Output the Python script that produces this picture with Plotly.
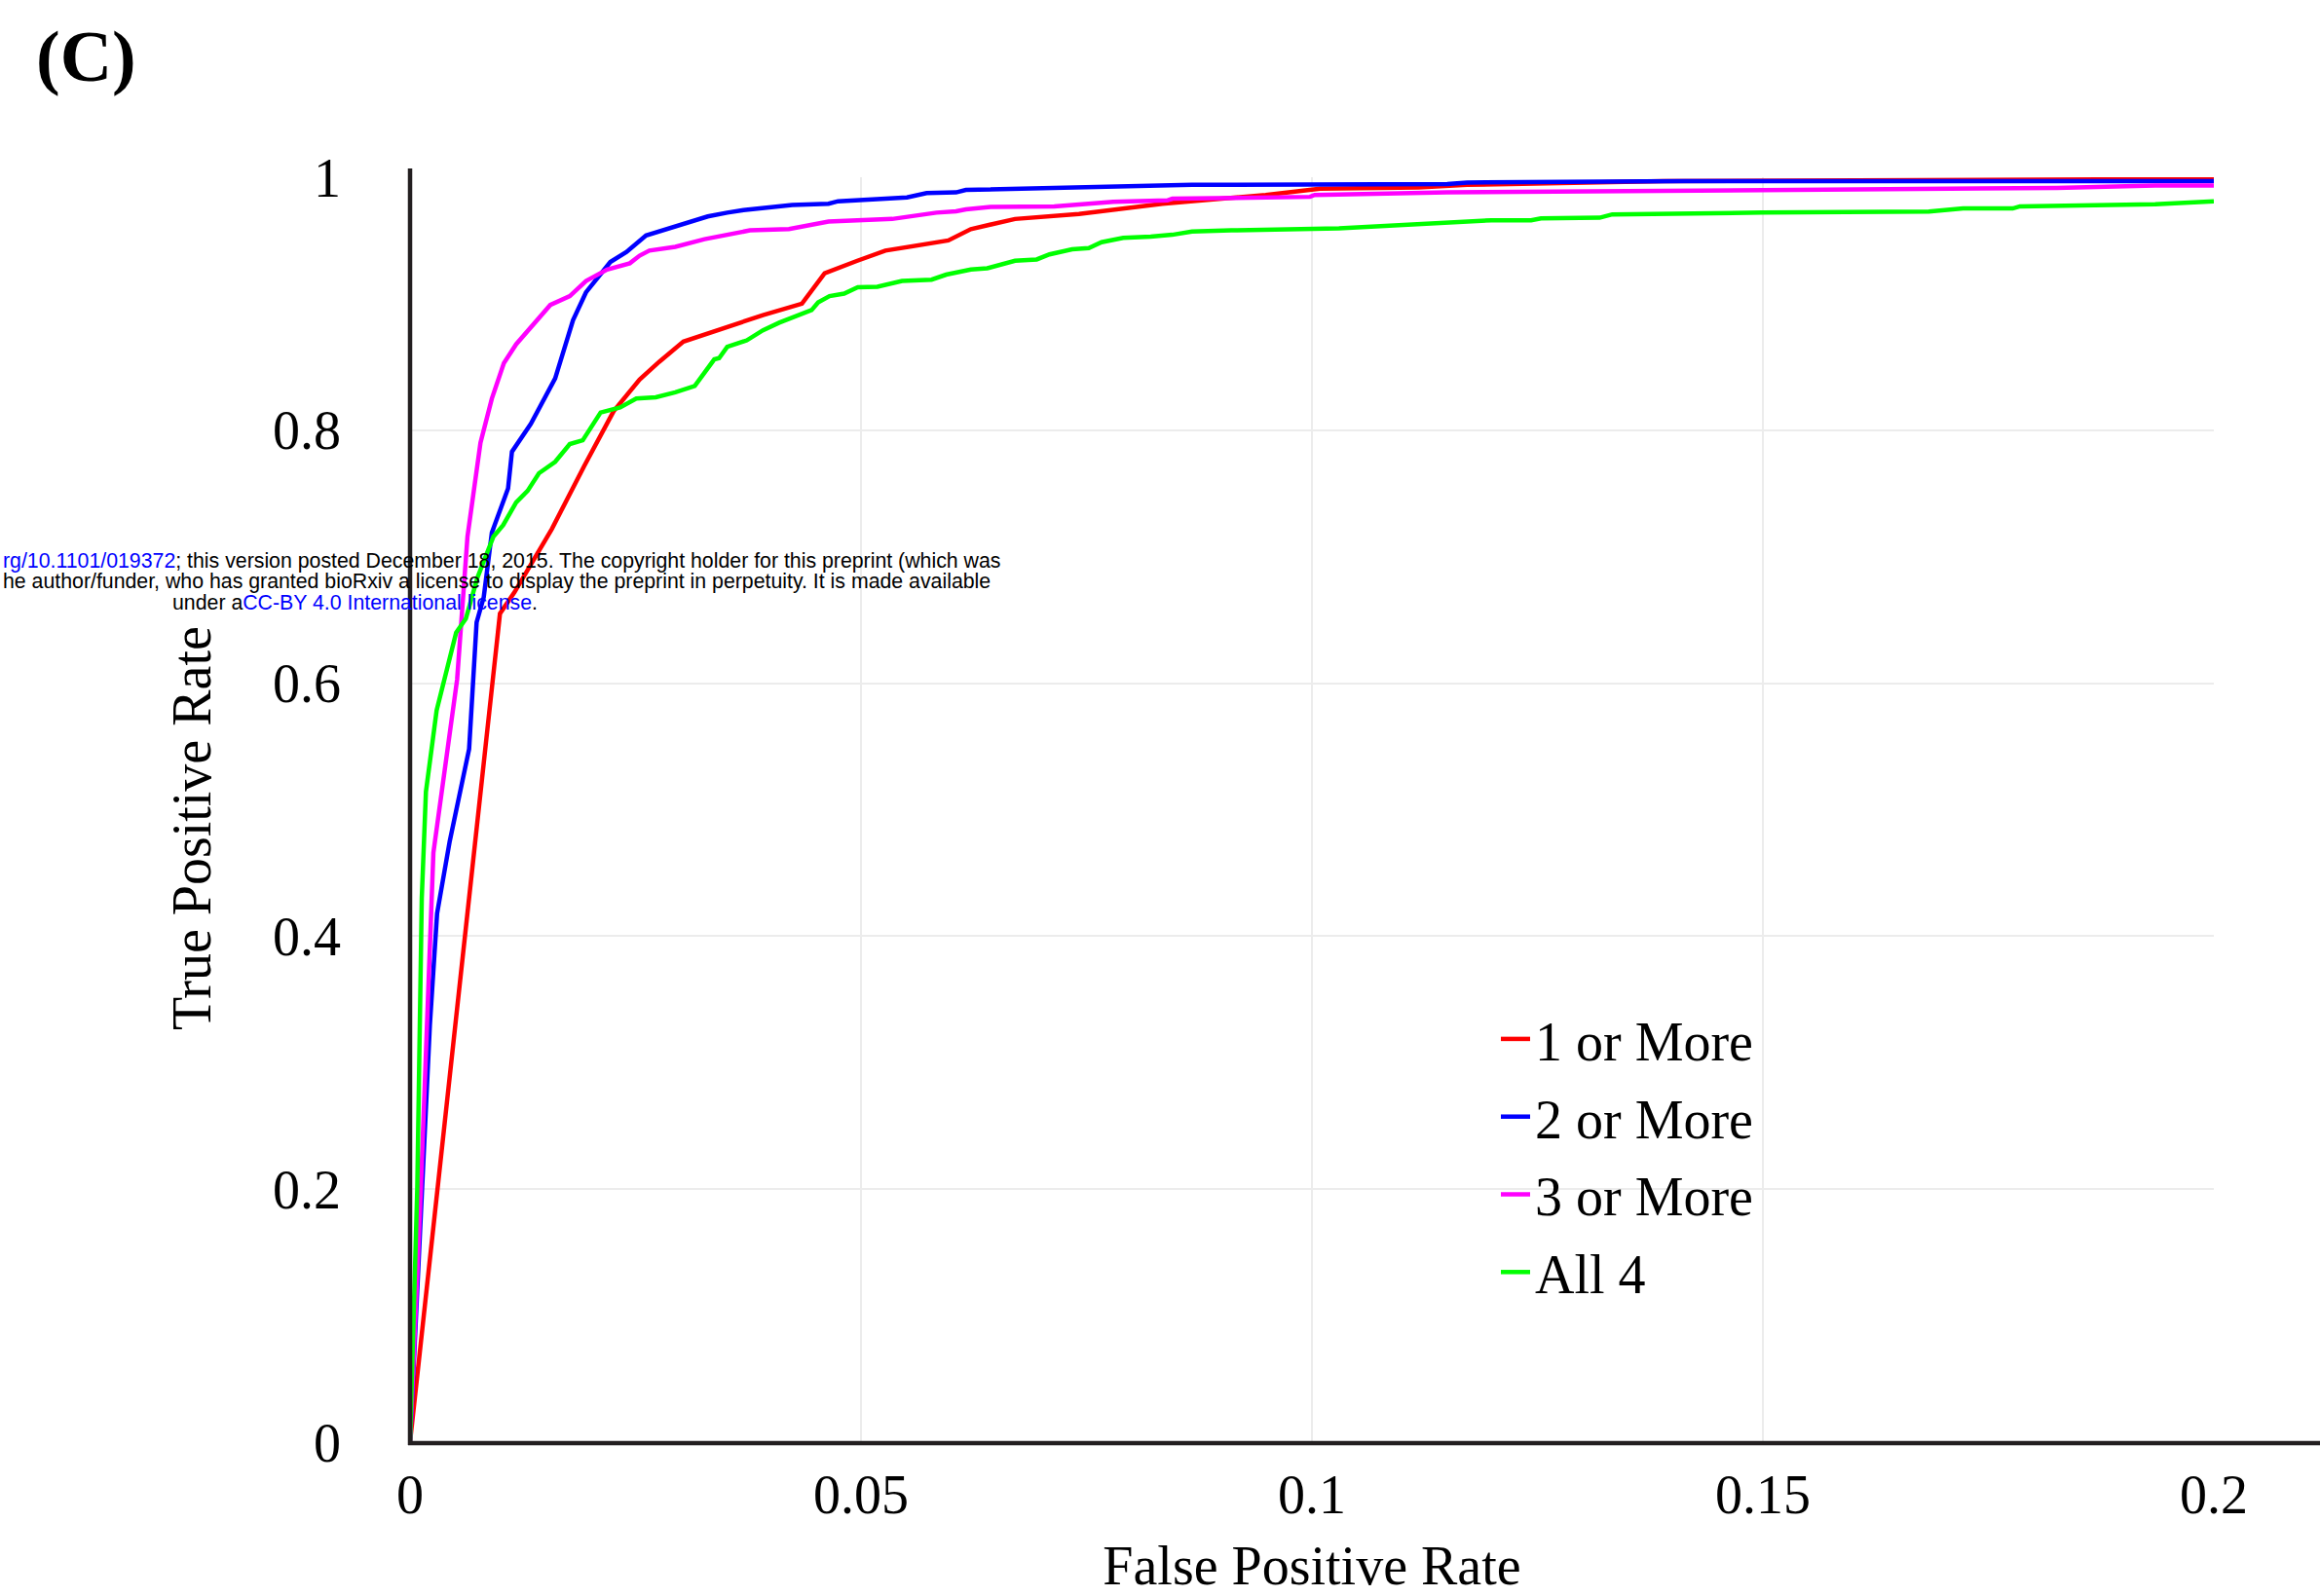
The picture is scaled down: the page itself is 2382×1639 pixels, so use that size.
import plotly.graph_objects as go

# ---------------- data ----------------
series_names = ["1 or More", "2 or More", "3 or More", "All 4"]
series_colors = ["#ff0000", "#0000ff", "#ff00ff", "#00ff00"]

fpr_1 = [0, 0.00997, 0.01159, 0.01573, 0.01933, 0.02257, 0.02545, 0.02761, 0.03031, 0.03517,
         0.03913, 0.04345, 0.04597, 0.0496, 0.0527, 0.05968, 0.06218, 0.06708, 0.07417, 0.08342,
         0.09487, 0.1009, 0.1118, 0.1172, 0.139, 0.2]
tpr_1 = [0, 0.655, 0.672, 0.722, 0.772, 0.815, 0.840, 0.854, 0.870, 0.882,
         0.891, 0.900, 0.924, 0.934, 0.942, 0.950, 0.959, 0.967, 0.971, 0.979,
         0.986, 0.991, 0.992, 0.994, 0.997, 0.9986]

fpr_2 = [0, 0.0013, 0.0022, 0.0030, 0.0044, 0.00655, 0.00738, 0.00817, 0.00907, 0.01087,
         0.0113, 0.01339, 0.01609, 0.01807, 0.01951, 0.02221, 0.02401, 0.02617, 0.02797, 0.03157,
         0.03301, 0.03517, 0.03697, 0.04237, 0.0464, 0.04746, 0.0551, 0.05728, 0.06054, 0.06163,
         0.07362, 0.0867, 0.115, 0.1172, 0.1412, 0.2]
tpr_2 = [0, 0.2, 0.33, 0.418, 0.475, 0.548, 0.648, 0.668, 0.719, 0.754,
         0.783, 0.805, 0.841, 0.887, 0.909, 0.933, 0.941, 0.954, 0.958, 0.966,
         0.969, 0.972, 0.974, 0.978, 0.979, 0.981, 0.984, 0.9875, 0.988, 0.990,
         0.992, 0.994, 0.9946, 0.9958, 0.997, 0.997]

fpr_3 = [0, 0.0012, 0.00259, 0.00522, 0.00637, 0.00781, 0.00907, 0.0104, 0.01177, 0.01555,
         0.01771, 0.01951, 0.02185, 0.02437, 0.02545, 0.02653, 0.02941, 0.03265, 0.03769, 0.04201,
         0.0464, 0.05346, 0.05837, 0.06054, 0.06163, 0.06436, 0.07143, 0.07797, 0.08397, 0.08451,
         0.09978, 0.1003, 0.115, 0.1499, 0.1826, 0.1935, 0.2]
tpr_3 = [0, 0.2, 0.466, 0.603, 0.716, 0.790, 0.825, 0.853, 0.868, 0.899,
         0.906, 0.918, 0.927, 0.932, 0.938, 0.942, 0.945, 0.951, 0.958, 0.959,
         0.965, 0.967, 0.972, 0.973, 0.9746, 0.9765, 0.977, 0.9806, 0.9817, 0.983,
         0.9845, 0.986, 0.988, 0.990, 0.9915, 0.9935, 0.9935]

fpr_4 = [0, 0.0004, 0.0008, 0.0013, 0.00176, 0.00295, 0.00511, 0.00619, 0.00745, 0.00925,
         0.01033, 0.01177, 0.01303, 0.01429, 0.01609, 0.01771, 0.01915, 0.02113, 0.02329, 0.02509,
         0.02725, 0.02941, 0.03157, 0.03373, 0.03427, 0.03517, 0.03733, 0.03913, 0.04093, 0.04453,
         0.04525, 0.04651, 0.04813, 0.04964, 0.05182, 0.05455, 0.05782, 0.05945, 0.06218, 0.064,
         0.06708, 0.06948, 0.0709, 0.0734, 0.07526, 0.07667, 0.07907, 0.08212, 0.08451, 0.0867,
         0.09106, 0.103, 0.1096, 0.1161, 0.1199, 0.1243, 0.1254, 0.1319, 0.1333, 0.1499,
         0.1684, 0.1722, 0.1777, 0.1785, 0.1935, 0.2]
tpr_4 = [0, 0.1, 0.2, 0.43, 0.514, 0.5785, 0.640, 0.651, 0.683, 0.716,
         0.725, 0.743, 0.752, 0.766, 0.775, 0.789, 0.792, 0.814, 0.818, 0.825,
         0.826, 0.830, 0.835, 0.856, 0.857, 0.866, 0.871, 0.879, 0.885, 0.895,
         0.901, 0.906, 0.908, 0.913, 0.9134, 0.918, 0.919, 0.923, 0.927, 0.928,
         0.934, 0.935, 0.939, 0.943, 0.944, 0.9486, 0.952, 0.953, 0.9545, 0.957,
         0.958, 0.9596, 0.962, 0.964, 0.966, 0.966, 0.9675, 0.968, 0.9706, 0.972,
         0.9728, 0.9753, 0.9753, 0.977, 0.9786, 0.981]

x_tickvals = [0, 0.05, 0.1, 0.15, 0.2]
x_ticktext = ["0", "0.05", "0.1", "0.15", "0.2"]
y_tickvals = [0, 0.2, 0.4, 0.6, 0.8, 1.0]
y_ticktext = ["0", "0.2", "0.4", "0.6", "0.8", "1"]

# ---------------- layout geometry ----------------
W, H = 2382, 1639
L, R, T, B = 421, 2273, 182, 1481
PW, PH = R - L, B - T


def px(xp):
    return (xp - L) / PW


def py(yp):
    return (B - yp) / PH


SERIF = "Liberation Serif"
SANS = "Liberation Sans"
AXIS_COLOR = "#231f20"

fig = go.Figure()
xs = [fpr_1, fpr_2, fpr_3, fpr_4]
ys = [tpr_1, tpr_2, tpr_3, tpr_4]
for i, name in enumerate(series_names):
    fig.add_trace(go.Scatter(
        x=xs[i], y=ys[i], mode="lines", name=name,
        legendgroup=name,
        line=dict(color=series_colors[i], width=4.5),
    ))

fig.update_layout(
    width=W, height=H,
    margin=dict(l=L, r=W - R, t=T, b=H - B, pad=0, autoexpand=False),
    paper_bgcolor="white", plot_bgcolor="white",
    font=dict(family=SERIF, size=56, color="black"),
    showlegend=True,
    legend=dict(
        x=px(1536), y=py(1024), xanchor="left", yanchor="top",
        bgcolor="rgba(0,0,0,0)", borderwidth=0,
        font=dict(family=SERIF, size=56, color="black"),
        traceorder="grouped", tracegroupgap=4,
    ),
    xaxis=dict(
        range=[0, 0.2], tickvals=x_tickvals, ticktext=x_ticktext,
        showgrid=True, gridcolor="#ececec", gridwidth=2,
        zeroline=False, showline=False, automargin=False,
        ticks="", ticklabelstandoff=16,
        tickfont=dict(family=SERIF, size=56, color="black"),
        title=dict(text="False Positive Rate", standoff=25,
                   font=dict(family=SERIF, size=56, color="black")),
    ),
    yaxis=dict(
        range=[0, 1.0], tickvals=y_tickvals, ticktext=y_ticktext,
        showgrid=True, gridcolor="#ececec", gridwidth=2,
        zeroline=False, showline=False, automargin=False,
        ticks="", ticklabelstandoff=70,
        tickfont=dict(family=SERIF, size=56, color="black"),
    ),
)

# axis lines (y-axis reaches slightly above 1, x-axis runs to the right edge)
fig.add_shape(type="line", xref="paper", yref="paper",
              x0=px(419), x1=px(W + 5), y0=py(1482), y1=py(1482),
              line=dict(color=AXIS_COLOR, width=4.5))
fig.add_shape(type="line", xref="paper", yref="paper",
              x0=px(421), x1=px(421), y0=py(1484), y1=py(173),
              line=dict(color=AXIS_COLOR, width=4.5))

# y-axis title
fig.add_annotation(text="True Positive Rate", xref="paper", yref="paper",
                   x=px(197), y=py(851), textangle=-90, showarrow=False,
                   xanchor="center", yanchor="middle",
                   font=dict(family=SERIF, size=56, color="black"))

# panel label
fig.add_annotation(text="<b>(C)</b>", xref="paper", yref="paper",
                   x=px(88), y=py(58), showarrow=False,
                   xanchor="center", yanchor="middle",
                   font=dict(family=SERIF, size=74, color="black"))

# bioRxiv watermark (the part visible on the page)
wm_font = dict(family=SANS, size=21.3, color="black")
fig.add_annotation(
    text='<span style="color:#0000ff">rg/10.1101/019372</span>; '
         'this version posted December 18, 2015. The copyright holder for this preprint (which was',
    xref="paper", yref="paper", x=px(1029), y=py(576), showarrow=False,
    xanchor="right", yanchor="middle", font=wm_font)
fig.add_annotation(
    text='he author/funder, who has granted bioRxiv a license to '
         'display the preprint in perpetuity. It is made available',
    xref="paper", yref="paper", x=px(1019), y=py(597), showarrow=False,
    xanchor="right", yanchor="middle", font=wm_font)
fig.add_annotation(
    text='under a<span style="color:#0000ff">CC-BY 4.0 International license</span>.',
    xref="paper", yref="paper", x=px(175), y=py(619), showarrow=False,
    xanchor="left", yanchor="middle", font=wm_font)

fig.write_html("out.html")
